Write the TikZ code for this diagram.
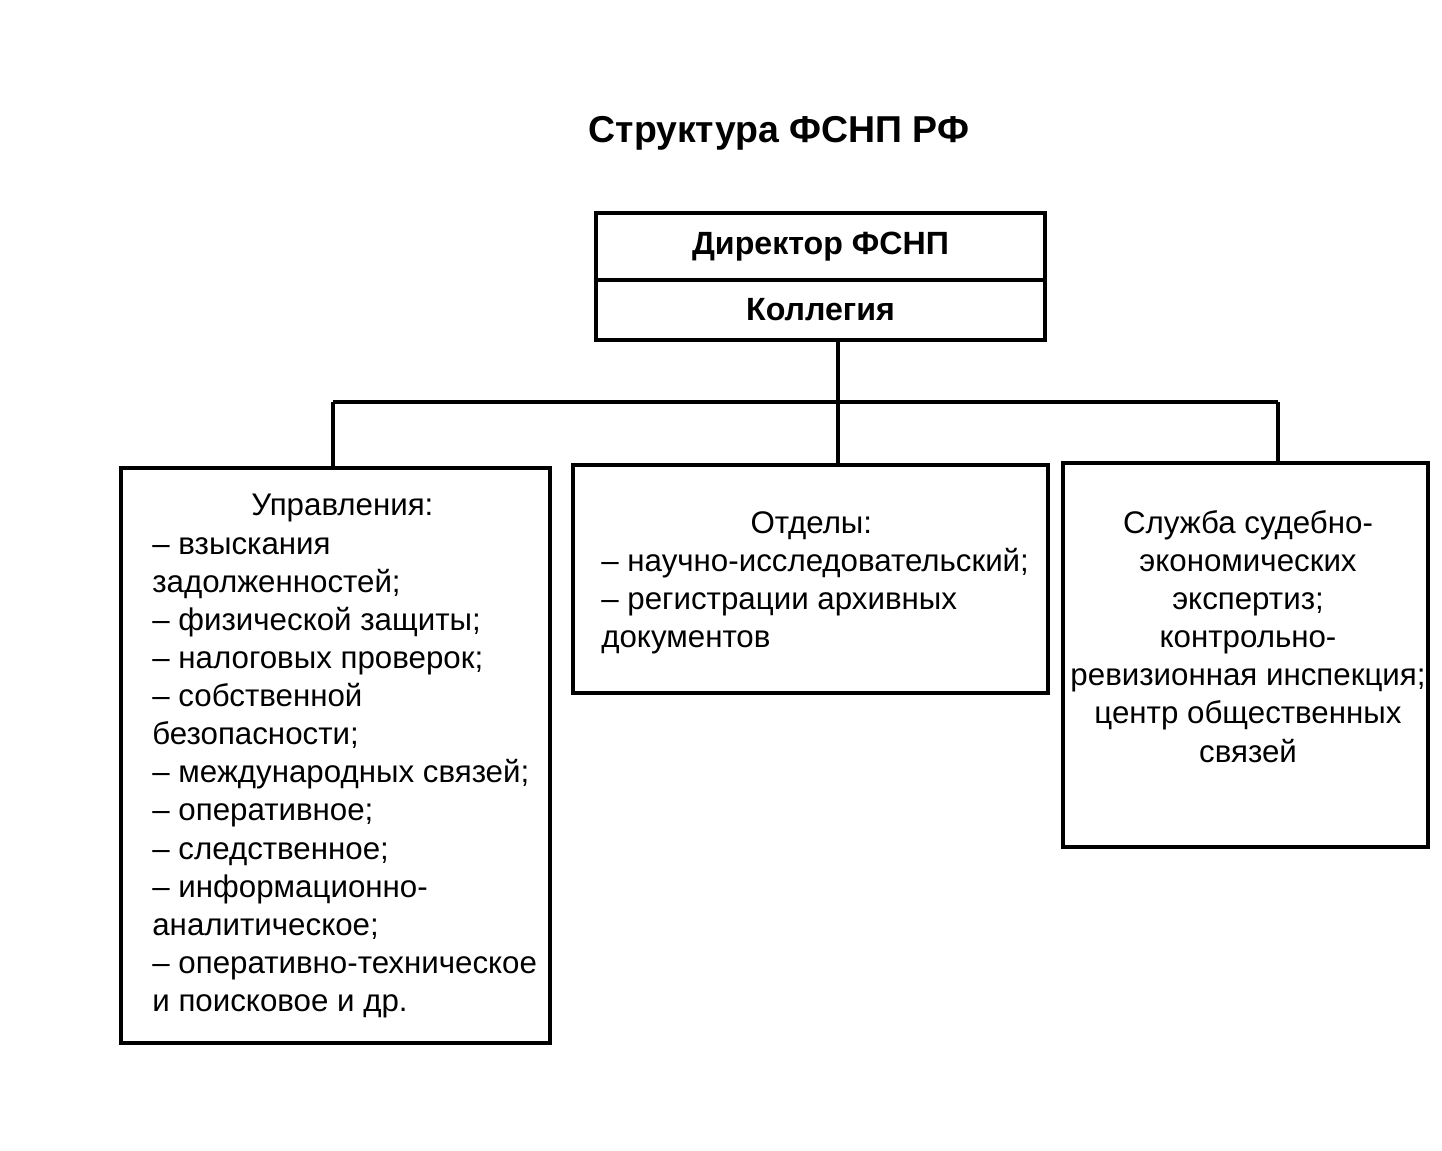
\documentclass[tikz,border=0pt]{standalone}
\usepackage{fontspec}
\setmainfont{Liberation Sans}
\usepackage{tikz}

\begin{document}
\begin{tikzpicture}[
  box/.style={draw, line width=2pt, inner sep=0pt},
  head/.style={box, font=\fontsize{18.3pt}{21.7pt}\selectfont\bfseries},
  txt/.style={inner sep=0pt, font=\fontsize{17.8pt}{21.7pt}\selectfont},
  link/.style={line width=1.8pt}]
\useasboundingbox (0,0) rectangle (28.84,-23);
\node[font=\fontsize{21.3pt}{25pt}\selectfont\bfseries] (title) at (15.58,-2.66) {Структура ФСНП РФ};
\node[head, minimum width=8.98cm, minimum height=1.34cm] (dir) at (16.41,-4.93) {Директор ФСНП};
\node[head, minimum width=8.98cm, minimum height=1.20cm] (koll) at (16.41,-6.20) {Коллегия};
% boxes
\node[box, minimum width=8.58cm, minimum height=11.5cm] (upr) at (6.71,-15.11) {};
\node[box, minimum width=9.5cm, minimum height=4.56cm] (otd) at (16.21,-11.58) {};
\node[box, minimum width=7.3cm, minimum height=7.68cm] (sl) at (24.91,-13.10) {};
% texts
\node[txt, anchor=north west, align=left] (uprtxt) at (3.04,-9.88)
  {\makebox[7.6cm]{Управления:}\\
   – взыскания\\ задолженностей;\\ – физической защиты;\\ – налоговых проверок;\\
   – собственной\\ безопасности;\\ – международных связей;\\ – оперативное;\\
   – следственное;\\ – информационно-\\ аналитическое;\\ – оперативно-техническое\\
   и поисковое и др.};
\node[txt, anchor=north west, align=left] (otdtxt) at (12.02,-10.22)
  {\makebox[8.4cm]{Отделы:}\\ – научно-исследовательский;\\ – регистрации архивных\\ документов};
\node[txt, anchor=north, align=center] (sltxt) at (24.96,-10.20)
  {Служба судебно-\\ экономических\\ экспертиз;\\ контрольно-\\ ревизионная инспекция;\\
   центр общественных\\ связей};
% tree lines
\coordinate (lj) at (6.66,-8.04);
\coordinate (mj) at (16.76,-8.04);
\coordinate (rj) at (25.56,-8.04);
\draw[link] (koll.south -| mj) -- (otd.north -| mj);
\draw[link] (lj) -- (rj);
\draw[link] (lj) -- (upr.north -| lj);
\draw[link] (rj) -- (sl.north -| rj);
\end{tikzpicture}
\end{document}
